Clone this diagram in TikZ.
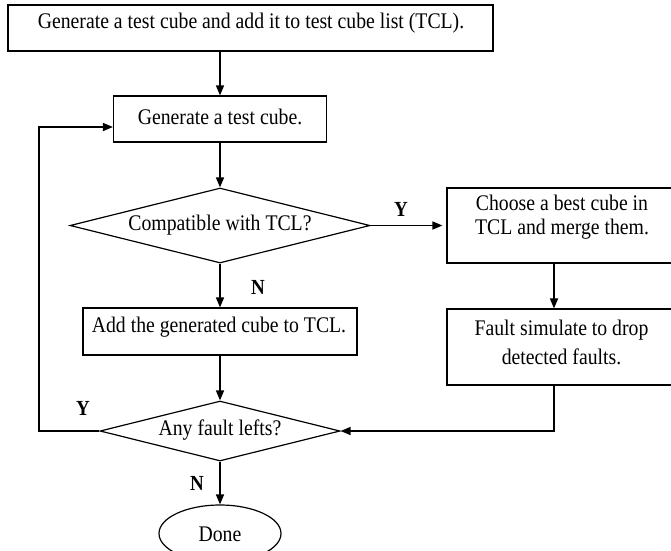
\documentclass[tikz,border=0pt]{standalone}
\usepackage{fontspec}
\setmainfont{Liberation Serif}[FakeStretch=0.885]
\usetikzlibrary{shapes.geometric,arrows.meta}
\begin{document}
\begin{tikzpicture}[x=1pt,y={(0pt,-1pt)},
  frame/.style={draw, line width=1.2pt, inner sep=0pt, rectangle},
  decision/.style={draw, diamond, line width=1.2pt, inner sep=0pt, aspect=4},
  txt/.style={inner sep=0pt, font=\fontsize{22.3}{23}\selectfont, align=center},
  lbl/.style={inner sep=0pt, font=\fontsize{21.5}{24}\selectfont\bfseries},
  arr/.style={line width=1.5pt, -{Triangle[length=10pt,width=8pt]}}]
\useasboundingbox (0,0) rectangle (671,550);
\clip (0,0) rectangle (671,550);

\node[frame, minimum width=485pt, minimum height=46pt] (top) at (250.5,28) {};
\node[txt] (toptxt) at (251,23) {Generate a test cube and add it to test cube list (TCL).};

\node[frame, minimum width=213pt, minimum height=46pt] (gen) at (220,119) {};
\node[txt] (gentxt) at (220,117) {Generate a test cube.};

\node[decision, minimum width=300pt, minimum height=75pt] (comp) at (220,225.5) {};
\node[txt] (comptxt) at (220,225) {Compatible with TCL?};

\node[frame, minimum width=229pt, minimum height=75pt] (choose) at (561.5,225.5) {};
\node[txt, font=\fontsize{22.3}{24}\selectfont] (choosetxt) at (562,217) {Choose a best cube in\\TCL and merge them.};

\node[frame, minimum width=274pt, minimum height=47pt] (add) at (220,331.5) {};
\node[txt] (addtxt) at (219,327) {Add the generated cube to TCL.};

\node[frame, minimum width=229pt, minimum height=76pt] (fault) at (561.5,347) {};
\node[txt, font=\fontsize{22.3}{29}\selectfont] (faulttxt) at (561.5,342.5) {Fault simulate to drop\\detected faults.};

\node[decision, minimum width=240pt, minimum height=60pt] (any) at (220,431) {};
\node[txt] (anytxt) at (220,430) {Any fault lefts?};

\node[draw, ellipse, line width=1.2pt, minimum width=122pt, minimum height=57pt, inner sep=0pt] (done) at (220,533.5) {};
\node[txt] (donetxt) at (220,534) {Done};

\coordinate (rx) at (554,0);
\coordinate (lx) at (39,0);

\draw[arr] (top.south -| gen.north) -- (gen.north);
\draw[arr] (gen.south) -- (comp.north);
\draw[arr, shorten >=4pt] (comp.east) -- (choose.west);
\draw[arr] (comp.south) -- (add.north);
\draw[arr] (add.south) -- (any.north);
\draw[arr] (choose.south -| rx) -- (fault.north -| rx);
\draw[arr] (fault.south -| rx) |- (any.east);
\draw[arr] (any.west) -- (any.west -| lx) |- ([yshift=-8pt]gen.west);
\draw[arr] (any.south) -- (done.north);

\node[lbl] (y1) at (401,209.5) {Y};
\node[lbl] (n1) at (258,287) {N};
\node[lbl] (y2) at (83,408) {Y};
\node[lbl] (n2) at (197,483) {N};
\end{tikzpicture}
\end{document}
